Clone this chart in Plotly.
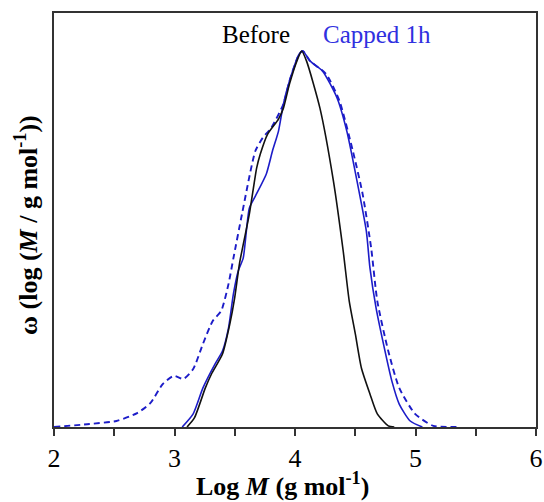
import plotly.graph_objects as go

before_x = [3.104, 3.165, 3.256, 3.307, 3.398, 3.459, 3.499, 3.540, 3.621, 3.682, 3.712, 3.773, 3.863, 3.904, 3.954, 4.025, 4.055, 4.096, 4.207, 4.319, 4.400, 4.450, 4.501, 4.551, 4.622, 4.683, 4.774, 4.824]
before_y = [0, 0.024, 0.104, 0.141, 0.194, 0.274, 0.343, 0.436, 0.566, 0.689, 0.726, 0.779, 0.819, 0.848, 0.912, 0.981, 1.0, 0.973, 0.848, 0.654, 0.468, 0.335, 0.247, 0.157, 0.088, 0.035, 0.003, 0]

capped_x = [3.064, 3.155, 3.236, 3.337, 3.398, 3.448, 3.489, 3.529, 3.570, 3.621, 3.671, 3.762, 3.813, 3.863, 3.904, 3.954, 4.035, 4.065, 4.126, 4.228, 4.349, 4.430, 4.510, 4.592, 4.622, 4.673, 4.734, 4.804, 4.865, 4.956, 5.057]
capped_y = [0, 0.035, 0.104, 0.168, 0.202, 0.263, 0.354, 0.415, 0.449, 0.582, 0.614, 0.673, 0.734, 0.787, 0.859, 0.920, 0.992, 1.0, 0.973, 0.947, 0.875, 0.787, 0.662, 0.521, 0.423, 0.316, 0.221, 0.122, 0.061, 0.016, 0]

dashed_x = [2.00, 2.295, 2.518, 2.690, 2.801, 2.902, 2.993, 3.074, 3.155, 3.236, 3.317, 3.388, 3.448, 3.489, 3.560, 3.671, 3.732, 3.802, 3.904, 3.954, 4.035, 4.065, 4.126, 4.258, 4.369, 4.480, 4.561, 4.632, 4.683, 4.774, 4.865, 4.996, 5.148, 5.340]
dashed_y = [0, 0.008, 0.016, 0.037, 0.064, 0.114, 0.136, 0.128, 0.154, 0.221, 0.282, 0.309, 0.380, 0.449, 0.566, 0.734, 0.769, 0.795, 0.859, 0.920, 0.992, 1.0, 0.973, 0.939, 0.867, 0.734, 0.620, 0.476, 0.335, 0.202, 0.104, 0.035, 0.003, 0]

x_ticks = [2, 3, 4, 5, 6]

FONT = "Liberation Serif"
BLUE = "#1c1cc8"

fig = go.Figure()
fig.add_trace(go.Scatter(x=dashed_x, y=dashed_y, mode="lines", line=dict(color=BLUE, width=1.9, dash="6px,4px", shape="spline", smoothing=0.6), showlegend=False))
fig.add_trace(go.Scatter(x=capped_x, y=capped_y, mode="lines", line=dict(color=BLUE, width=1.6, shape="spline", smoothing=0.6), showlegend=False))
fig.add_trace(go.Scatter(x=before_x, y=before_y, mode="lines", line=dict(color="#111111", width=1.6, shape="spline", smoothing=0.6), showlegend=False))

fig.update_layout(
    width=544, height=502,
    margin=dict(l=54, r=8, t=13, b=75),
    plot_bgcolor="white", paper_bgcolor="white",
    font=dict(family=FONT, color="black"),
    xaxis=dict(range=[2, 6], tickvals=x_ticks, ticks="outside", ticklen=7, tickwidth=1.5, tickcolor="#333",
               minor=dict(dtick=0.5, ticks="outside", ticklen=7, tickwidth=1.5, tickcolor="#333"),
               showline=True, linecolor="#333", linewidth=2, mirror=True, showgrid=False, zeroline=False,
               tickfont=dict(family=FONT, size=26), automargin=False, ticklabeloverflow="allow"),
    yaxis=dict(range=[0, 1.101], showticklabels=False, ticks="", showline=True, linecolor="#333", linewidth=2,
               mirror=True, showgrid=False, zeroline=False, automargin=False),
    annotations=[
        dict(x=3.675, y=1.043, xref="x", yref="y", text="Before", showarrow=False, font=dict(family=FONT, size=25, color="black")),
        dict(x=4.678, y=1.043, xref="x", yref="y", text="Capped 1h", showarrow=False, font=dict(family=FONT, size=25, color="#3030e0")),
        dict(x=3.899, y=-0.14, xref="x", yref="paper", text="<b>Log <i>M</i> (g mol<sup>-1</sup>)</b>", showarrow=False,
             xanchor="center", yanchor="middle", font=dict(family=FONT, size=26)),
        dict(x=-0.056, y=0.488, xref="paper", yref="paper", text="<b>ω (log (<i>M</i> / g mol<sup>-1</sup>))</b>",
             textangle=-90, showarrow=False, xanchor="center", yanchor="middle", font=dict(family=FONT, size=26)),
    ],
)
fig.write_html("out.html", config={"displayModeBar": False},
               post_script="document.body.style.margin='0';document.body.style.overflow='hidden';")
